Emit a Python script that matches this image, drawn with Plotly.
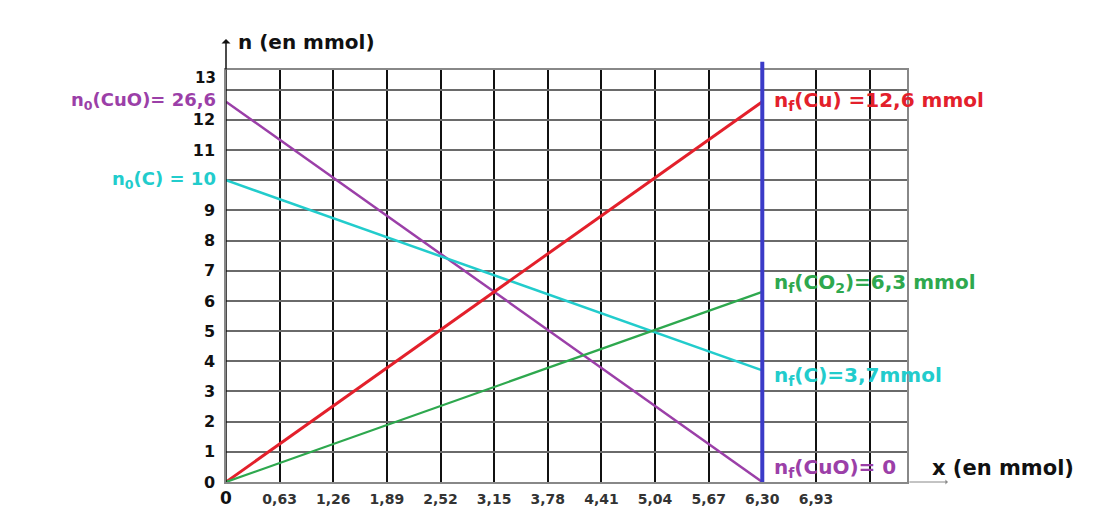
import plotly.graph_objects as go

# ---- data ----
x_progress = [0, 6.30]
n_CuO = [12.6, 0]
n_C = [10, 3.7]
n_Cu = [0, 12.6]
n_CO2 = [0, 6.3]
x_max = 6.30

x_tick_vals = [0, 0.63, 1.26, 1.89, 2.52, 3.15, 3.78, 4.41, 5.04, 5.67, 6.30, 6.93, 7.56]
x_tick_text = ["<span style='font-size:17px;color:#111'>0</span>", "0,63", "1,26", "1,89", "2,52", "3,15",
               "3,78", "4,41", "5,04", "5,67", "6,30", "6,93", ""]
y_tick_vals = list(range(0, 14))
# "10" is carried by the n0(C) label, "13" is drawn slightly raised
y_tick_text = ["" if v in (10, 13) else "<b>%d</b>" % v for v in y_tick_vals]

left_labels = [
    ("n<sub>0</sub>(CuO)= 26,6", n_CuO[0], "#9B3FA8", 1),
    ("n<sub>0</sub>(C) = 10", n_C[0], "#22CCCC", 0),
]
right_labels = [
    ("n<sub>f</sub>(Cu) =12,6 mmol", n_Cu[1], "#E3202B", 1),
    ("n<sub>f</sub>(CO<sub>2</sub>)=6,3 mmol", n_CO2[1], "#2EA84E", 9),
    ("n<sub>f</sub>(C)=3,7mmol", n_C[1], "#22CCCC", -6),
    ("n<sub>f</sub>(CuO)= 0", n_CuO[1], "#9B3FA8", 14),
]

FONT = "DejaVu Sans"

fig = go.Figure()
fig.add_trace(go.Scatter(x=x_progress, y=n_CuO, mode="lines", line=dict(color="#9B3FA8", width=2.5)))
fig.add_trace(go.Scatter(x=x_progress, y=n_C, mode="lines", line=dict(color="#22CCCC", width=2.5)))
fig.add_trace(go.Scatter(x=x_progress, y=n_Cu, mode="lines", line=dict(color="#E3202B", width=3)))
fig.add_trace(go.Scatter(x=x_progress, y=n_CO2, mode="lines", line=dict(color="#2EA84E", width=2.2)))

# vertical blue line at x_max (extends slightly above plot)
fig.add_shape(type="line", xref="x", yref="paper", x0=x_max, x1=x_max, y0=0, y1=1.02,
              line=dict(color="#3B3BC8", width=4))

# y-axis arrow
fig.add_annotation(xref="x", yref="paper", x=0, y=1.075, ax=0, ay=32, axref="pixel", ayref="pixel",
                   showarrow=True, arrowhead=1, arrowsize=1, arrowwidth=1.5, arrowcolor="#111", text="")
# x-axis extension arrow
fig.add_annotation(xref="paper", yref="y", x=1.06, y=0, ax=-40, ay=0, axref="pixel", ayref="pixel",
                   showarrow=True, arrowhead=1, arrowsize=0.8, arrowwidth=1, arrowcolor="#888", text="")

fig.add_annotation(xref="paper", yref="paper", x=0.014, y=1.068, xanchor="left", yanchor="middle",
                   text="<b>n (en mmol)</b>", showarrow=False, font=dict(family=FONT, size=20, color="#111"))
fig.add_annotation(xref="paper", yref="paper", x=1.034, y=0.034, xanchor="left", yanchor="middle",
                   text="<b>x (en mmol)</b>", showarrow=False, font=dict(family=FONT, size=21, color="#111"))

# raised "13" tick label
fig.add_annotation(xref="paper", yref="y", x=0, y=13, xanchor="right", yanchor="middle",
                   xshift=-8, yshift=12, text="<b>13</b>", showarrow=False,
                   font=dict(family=FONT, size=15, color="#111"))

for txt, yv, col, ys in left_labels:
    fig.add_annotation(xref="x", yref="y", x=x_progress[0], y=yv, xanchor="right", yanchor="middle",
                       xshift=-8, yshift=ys, text="<b>" + txt + "</b>", showarrow=False,
                       font=dict(family=FONT, size=18, color=col))
for txt, yv, col, ys in right_labels:
    fig.add_annotation(xref="x", yref="y", x=x_progress[1], y=yv, xanchor="left", yanchor="middle",
                       xshift=10, yshift=ys, text="<b>" + txt + "</b>", showarrow=False,
                       font=dict(family=FONT, size=20, color=col))

fig.update_layout(
    width=1095, height=515,
    margin=dict(l=218, r=196, t=62, b=41),
    paper_bgcolor="white", plot_bgcolor="white",
    showlegend=False,
    font=dict(family=FONT, color="#111"),
    xaxis=dict(range=[0, 8.0], tickmode="array", tickvals=x_tick_vals, ticktext=x_tick_text,
               showgrid=True, gridcolor="#111", gridwidth=1.5, zeroline=False,
               showline=True, linecolor="#888", linewidth=1.5, mirror=True,
               ticks="", tickfont=dict(family=FONT, size=14, color="#333", weight="bold"), ticklabelstandoff=3),
    yaxis=dict(range=[0, 13.65], tickmode="array", tickvals=y_tick_vals, ticktext=y_tick_text,
               showgrid=True, gridcolor="#6a6a6a", gridwidth=1.5, zeroline=False,
               showline=True, linecolor="#888", linewidth=1.5, mirror=True,
               ticks="", tickfont=dict(family=FONT, size=16, color="#111"), ticklabelstandoff=6),
)
# black y axis line on top
fig.add_shape(type="line", xref="x", yref="paper", x0=0, x1=0, y0=0, y1=1.0, line=dict(color="#111", width=1.5))

fig.write_html("out.html")
